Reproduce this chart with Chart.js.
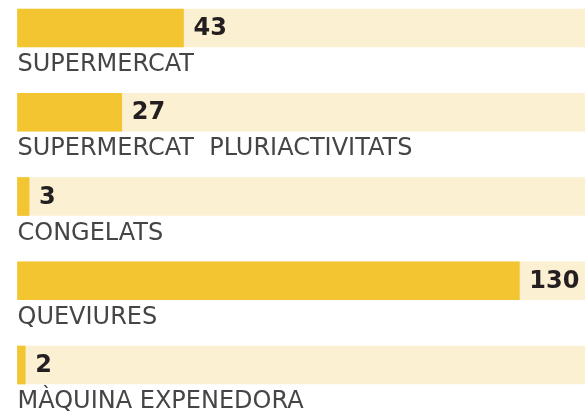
<!DOCTYPE html>
<html>
<head>
<meta charset="utf-8">
<script src="https://cdn.jsdelivr.net/npm/chart.js@4/dist/chart.umd.min.js"></script>
<style>
  html, body { margin: 0; padding: 0; background: #ffffff; }
  #wrap { width: 585px; height: 411px; position: relative; }
</style>
</head>
<body>
<div id="wrap"><canvas id="c" width="585" height="411"></canvas></div>
<script>
const categories = ["SUPERMERCAT", "SUPERMERCAT  PLURIACTIVITATS", "CONGELATS", "QUEVIURES", "MÀQUINA EXPENEDORA"];
const values = [43, 27, 3, 130, 2];
const axisMax = 147;
const trackValues = [147, 147, 147, 147, 147];

const BAR_COLOR = "#f3c631";
const TRACK_COLOR = "#fcf0d2";
const BAR_H = 38;

const labelPlugin = {
  id: "labels",
  afterDatasetsDraw(chart) {
    const ctx = chart.ctx;
    const meta = chart.getDatasetMeta(1);
    ctx.save();
    meta.data.forEach((bar, i) => {
      const yc = bar.y;
      ctx.font = "bold 24px 'DejaVu Sans'";
      ctx.fillStyle = "#231f20";
      ctx.textBaseline = "middle";
      ctx.textAlign = "left";
      ctx.fillText(String(values[i]), bar.x + 10, yc + 1);
      ctx.font = "24px 'DejaVu Sans'";
      ctx.fillStyle = "#454545";
      ctx.textBaseline = "alphabetic";
      ctx.fillText(categories[i], chart.chartArea.left, yc + BAR_H / 2 + 24);
    });
    ctx.restore();
  }
};

new Chart(document.getElementById("c"), {
  type: "bar",
  data: {
    labels: categories,
    datasets: [
      { data: trackValues, backgroundColor: TRACK_COLOR, barThickness: BAR_H, grouped: false, clip: false, order: 2 },
      { data: values, backgroundColor: BAR_COLOR, barThickness: BAR_H, grouped: false, clip: false, order: 1 }
    ]
  },
  options: {
    indexAxis: "y",
    responsive: false,
    animation: false,
    layout: { padding: { left: 17.5, right: 0, top: 28, bottom: 46 } },
    plugins: { legend: { display: false }, tooltip: { enabled: false } },
    scales: {
      x: { display: false, min: 0, max: axisMax },
      y: { display: false, offset: false }
    }
  },
  plugins: [labelPlugin]
});
</script>
</body>
</html>
